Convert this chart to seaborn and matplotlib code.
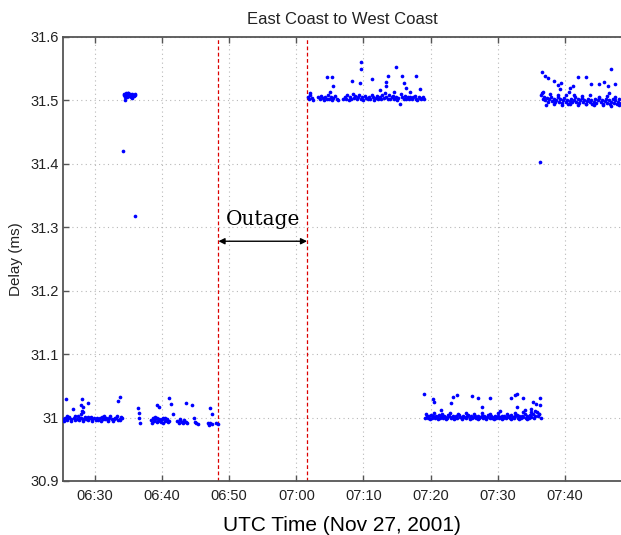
import matplotlib
matplotlib.use("Agg")
import matplotlib.pyplot as plt
import seaborn as sns
import pandas as pd

# ---- data (minutes after 06:00, delay in ms) ----
a_t = [25.3, 25.5, 25.8, 26.0, 26.2, 26.5, 26.9, 27.1, 27.3, 27.6, 27.8, 28.0, 28.3, 28.5,
       28.7, 29.0, 29.2, 29.4, 29.6, 29.9, 30.1, 30.3, 30.5, 30.8, 31.0, 31.2, 31.5, 31.7,
       31.9, 32.1, 32.3, 32.6, 32.8, 33.0, 33.2, 33.5, 33.7, 33.9, 34.0,
       25.4, 25.9, 26.4, 27.0, 27.5, 28.2, 28.9, 29.5, 30.2, 30.9, 31.4, 32.0, 32.7, 33.3, 33.8,
       25.7, 26.7, 28.1, 27.9, 28.2, 28.1, 29.0, 33.7, 33.4, 28.0, 28.3]
a_y = [30.998, 31.000, 30.996, 30.999, 31.001, 30.997, 30.999, 31.002, 30.998, 30.996, 31.000, 30.999,
       30.997, 31.001, 30.998, 30.996, 30.999, 31.001, 30.997, 30.999, 30.998, 31.000, 30.996, 30.999,
       31.001, 30.997, 30.998, 31.000, 30.996, 30.999, 31.002, 30.998, 30.997, 31.000, 30.999, 30.996,
       30.998, 31.001, 30.999,
       30.995, 31.002, 30.994, 30.996, 31.003, 30.995, 31.001, 30.994, 30.996, 30.995, 31.002, 30.994,
       30.995, 31.003, 30.996,
       31.029, 31.013, 31.029, 31.020, 31.016, 31.010, 31.023, 31.032, 31.026, 31.006, 31.008]

b_t = [34.3, 34.4, 34.5, 34.6, 34.7, 34.8, 34.9, 35.0, 35.1, 35.2, 35.3, 35.4, 35.5, 35.6,
       35.8, 35.9, 36.0, 34.5, 35.0, 35.6, 34.2, 36.0]
b_y = [31.508, 31.510, 31.506, 31.511, 31.508, 31.505, 31.509, 31.511, 31.507, 31.510, 31.508,
       31.506, 31.510, 31.509, 31.507, 31.510, 31.508, 31.501, 31.512, 31.504, 31.420, 31.318]

c_t = [36.4, 36.5, 36.6, 36.7,
       38.4, 38.6, 38.8, 39.0, 39.2, 39.4, 39.6, 39.8, 40.0, 40.2, 40.4, 40.6, 40.8, 41.0,
       38.5, 38.9, 39.3, 39.7, 40.1, 40.5, 40.9,
       39.2, 39.5, 41.1, 41.4, 41.6,
       42.3, 42.5, 42.7, 42.9, 43.1, 43.3, 43.5, 43.7, 42.6, 43.2,
       43.5, 44.5, 44.8, 44.9, 45.1, 45.3,
       46.8, 47.0, 47.2, 47.4, 47.1, 47.4, 48.1, 48.3]
c_y = [31.015, 31.007, 31.000, 30.992,
       30.996, 30.999, 30.994, 30.997, 31.000, 30.995, 30.998, 30.993, 30.997, 30.999, 30.994,
       30.996, 30.998, 30.995,
       30.992, 31.001, 30.993, 30.996, 30.992, 31.000, 30.993,
       31.020, 31.017, 31.031, 31.021, 31.006,
       30.995, 30.992, 30.996, 30.993, 30.991, 30.995, 30.993, 30.991, 30.998, 30.996,
       31.023, 31.020, 31.000, 30.993, 30.991, 30.990,
       30.991, 30.989, 30.991, 30.990, 31.015, 31.006, 30.992, 30.990]

d_t = [61.7, 61.9, 62.1, 62.3, 62.5, 63.3, 63.5, 63.7, 63.9, 64.1, 64.3, 64.5, 64.7, 64.9,
       65.1, 65.3, 65.5, 65.7, 66.0, 66.2, 67.0, 67.2, 67.4, 67.6, 67.8, 68.0, 68.2, 68.4,
       68.6, 68.8, 69.0, 69.2, 69.4, 69.6, 69.8, 70.0, 70.2, 70.4, 70.6, 70.8, 71.0, 71.2,
       71.4, 71.6, 71.8, 72.0, 72.2, 72.4, 72.6, 72.8, 73.0, 73.2, 73.4, 73.6, 73.8, 74.0,
       74.2, 74.4, 74.6, 74.8, 75.0, 75.2, 75.6, 75.8, 76.0, 76.2, 76.4, 76.6, 76.8, 77.0,
       77.2, 77.4, 77.6, 77.8, 78.0, 78.2, 78.4, 78.6, 78.8, 79.0,
       64.6, 65.3, 65.4, 68.3, 69.6, 69.7, 69.5, 71.2, 73.3, 73.6, 73.3, 74.8, 75.5, 75.8,
       76.0, 76.3, 77.8, 78.4, 62.0, 65.0, 72.5, 74.5, 76.9]
d_y = [31.506, 31.503, 31.508, 31.504, 31.501, 31.505, 31.502, 31.507, 31.504, 31.500, 31.506,
       31.503, 31.508, 31.502, 31.505, 31.501, 31.504, 31.507, 31.503, 31.500, 31.502, 31.506,
       31.503, 31.508, 31.501, 31.505, 31.503, 31.510, 31.504, 31.507, 31.502, 31.506, 31.509,
       31.503, 31.505, 31.501, 31.507, 31.504, 31.502, 31.506, 31.503, 31.508, 31.505, 31.501,
       31.504, 31.507, 31.502, 31.505, 31.503, 31.508, 31.504, 31.512, 31.506, 31.503, 31.509,
       31.502, 31.505, 31.507, 31.503, 31.506, 31.501, 31.504, 31.510, 31.506, 31.503, 31.507,
       31.502, 31.505, 31.503, 31.506, 31.502, 31.505, 31.507, 31.503, 31.501, 31.506, 31.504,
       31.502, 31.505, 31.503,
       31.537, 31.537, 31.523, 31.531, 31.561, 31.550, 31.527, 31.534, 31.529, 31.539, 31.523,
       31.553, 31.494, 31.539, 31.528, 31.519, 31.539, 31.518, 31.512, 31.514, 31.516, 31.514,
       31.513]

e_t = [79.2, 79.4, 79.6, 79.8, 80.0, 80.2, 80.4, 80.6, 80.8, 81.0, 81.2, 81.4, 81.6, 81.8,
       82.0, 82.2, 82.4, 82.6, 82.8, 83.0, 83.2, 83.4, 83.6, 83.8, 84.0, 84.2, 84.4, 84.6,
       84.8, 85.0, 85.2, 85.4, 85.6, 85.8, 86.0, 86.2, 86.4, 86.6, 86.8, 87.0, 87.2, 87.4,
       87.6, 87.8, 88.0, 88.2, 88.4, 88.6, 88.8, 89.0, 89.2, 89.4, 89.6, 89.8, 90.0, 90.2,
       90.4, 90.6, 90.8, 91.0, 91.2, 91.4, 91.6, 91.8, 92.0, 92.2, 92.4, 92.6, 92.8, 93.0,
       93.2, 93.4, 93.6, 93.8, 94.0, 94.2, 94.4, 94.6, 94.8, 95.0, 95.2, 95.4, 95.6, 95.8,
       96.0, 96.2, 96.4,
       79.3, 79.9, 80.5, 81.1, 81.7, 82.3, 82.9, 83.5, 84.1, 84.7, 85.3, 85.9, 86.5, 87.1,
       87.7, 88.3, 88.9, 89.5, 90.1, 90.7, 91.3, 91.9, 92.5, 93.1, 93.7, 94.3, 94.9, 95.5, 96.1,
       79.0, 80.3, 80.5, 83.0, 83.4, 83.9, 86.1, 87.1, 87.7, 88.8, 92.0, 92.5, 92.9, 93.8,
       95.3, 95.7, 96.3, 96.3, 92.9, 81.6, 90.4, 94.1, 95.0]
e_y = [31.000, 31.003, 30.999, 31.002, 31.004, 31.000, 31.002, 30.999, 31.003, 31.001, 31.004,
       31.000, 31.002, 30.999, 31.003, 31.001, 31.000, 31.004, 31.002, 30.999, 31.001, 31.003,
       31.000, 31.002, 30.999, 31.004, 31.001, 31.000, 31.003, 31.001, 30.999, 31.002, 31.004,
       31.000, 31.002, 30.999, 31.001, 31.003, 31.000, 31.002, 30.999, 31.001, 31.003, 31.000,
       31.002, 30.999, 31.001, 31.004, 31.000, 31.002, 30.999, 31.001, 31.003, 31.000, 31.002,
       30.999, 31.001, 31.003, 31.000, 31.002, 30.999, 31.001, 31.003, 31.000, 31.004, 31.001,
       30.999, 31.002, 31.004, 31.000, 31.002, 30.999, 31.003, 31.001, 31.005, 31.000, 31.002,
       30.999, 31.004, 31.001, 31.006, 31.000, 31.003, 31.008, 31.002, 31.005, 31.000,
       31.006, 30.997, 31.007, 30.997, 31.006, 30.998, 31.007, 30.997, 31.006, 30.998, 31.007,
       30.997, 31.006, 30.998, 31.007, 30.997, 31.006, 30.998, 31.007, 30.997, 31.006, 30.998,
       31.007, 30.997, 31.008, 30.998, 31.009, 31.010, 31.006,
       31.037, 31.030, 31.024, 31.023, 31.032, 31.035, 31.034, 31.031, 31.016, 31.031, 31.031,
       31.035, 31.037, 31.031, 31.025, 31.022, 31.031, 31.020, 31.016, 31.012, 31.010, 31.012,
       31.014]

f_t = [96.5, 96.7, 96.9, 97.1, 97.3, 97.5, 97.7, 97.9, 98.1, 98.3, 98.5, 98.7, 98.9, 99.1,
       99.3, 99.5, 99.7, 99.9, 100.1, 100.3, 100.5, 100.7, 100.9, 101.1, 101.3, 101.5, 101.7,
       101.9, 102.1, 102.3, 102.5, 102.7, 102.9, 103.1, 103.3, 103.5, 103.7, 103.9, 104.1,
       104.3, 104.5, 104.7, 104.9, 105.1, 105.3, 105.5, 105.7, 105.9, 106.1, 106.3, 106.5,
       106.7, 106.9, 107.1, 107.3, 107.5, 107.7, 107.9, 108.1, 108.3,
       96.6, 97.2, 97.8, 98.4, 99.0, 99.6, 100.2, 100.8, 101.4, 102.0, 102.6, 103.2, 103.8,
       104.4, 105.0, 105.6, 106.2, 106.8, 107.4, 108.0,
       96.6, 97.1, 97.5, 98.4, 99.0, 99.4, 99.3, 100.8, 101.2, 102.0, 103.1, 103.9, 105.1,
       105.8, 106.4, 106.9, 107.4, 96.3, 96.8, 100.6, 106.6]
f_y = [31.508, 31.503, 31.506, 31.500, 31.504, 31.498, 31.502, 31.506, 31.499, 31.503, 31.497,
       31.501, 31.505, 31.498, 31.502, 31.496, 31.500, 31.504, 31.498, 31.501, 31.495, 31.499,
       31.503, 31.497, 31.501, 31.505, 31.498, 31.502, 31.496, 31.500, 31.504, 31.497, 31.501,
       31.495, 31.499, 31.503, 31.497, 31.500, 31.494, 31.498, 31.502, 31.496, 31.500, 31.504,
       31.497, 31.501, 31.495, 31.499, 31.503, 31.496, 31.500, 31.494, 31.498, 31.502, 31.496,
       31.500, 31.494, 31.498, 31.502, 31.496,
       31.512, 31.493, 31.510, 31.494, 31.509, 31.493, 31.508, 31.494, 31.509, 31.493, 31.507,
       31.494, 31.508, 31.493, 31.506, 31.493, 31.507, 31.492, 31.506, 31.493,
       31.545, 31.538, 31.535, 31.531, 31.524, 31.527, 31.518, 31.519, 31.522, 31.537, 31.537,
       31.526, 31.526, 31.529, 31.522, 31.549, 31.526, 31.403, 31.514, 31.513, 31.512]

outage_start = 48.4
outage_end = 61.6
x_ticks = [30, 40, 50, 60, 70, 80, 90, 100]
x_labels = ["06:30", "06:40", "06:50", "07:00", "07:10", "07:20", "07:30", "07:40"]
y_ticks = [30.9, 31.0, 31.1, 31.2, 31.3, 31.4, 31.5, 31.6]
y_labels = ["30.9", "31", "31.1", "31.2", "31.3", "31.4", "31.5", "31.6"]

df = pd.DataFrame({
    "t": a_t + b_t + c_t + d_t + e_t + f_t,
    "delay": a_y + b_y + c_y + d_y + e_y + f_y,
})

sns.set_style("white")
plt.rcParams["font.family"] = ["Liberation Sans", "DejaVu Sans"]

fig = plt.figure(figsize=(6.21, 5.35), dpi=100)
ax = fig.add_axes([63 / 621, 54 / 535, 1.0 - 63 / 621, 444 / 535])

sns.scatterplot(data=df, x="t", y="delay", ax=ax, color="#0000ff", s=7,
                linewidth=0, marker="o", zorder=3)

ax.set_xlim(25.25, 108.35)
ax.set_ylim(30.9, 31.6)
ax.set_xticks(x_ticks)
ax.set_xticklabels(x_labels)
ax.set_yticks(y_ticks)
ax.set_yticklabels(y_labels)

ax.grid(True, linestyle=(0, (1, 3)), color="#b8b8b8", linewidth=0.8)
ax.set_axisbelow(True)

for side in ["left", "bottom", "top"]:
    ax.spines[side].set_color("#555555")
    ax.spines[side].set_linewidth(1.3)
ax.spines["right"].set_visible(False)
ax.tick_params(direction="in", length=4, width=1, color="#555555",
               labelsize=10.5, top=True, bottom=True, left=True, right=False,
               labelcolor="#222222")
ax.tick_params(axis="x", pad=6)
ax.tick_params(axis="y", pad=3)

ax.axvline(outage_start, color="#dd0000", linestyle=(0, (3, 2)), linewidth=0.9, zorder=2)
ax.axvline(outage_end, color="#dd0000", linestyle=(0, (3, 2)), linewidth=0.9, zorder=2)

ax.annotate("", xy=(outage_start, 31.278), xytext=(outage_end, 31.278),
            arrowprops=dict(arrowstyle="<|-|>", color="black", lw=1.0,
                            mutation_scale=9, shrinkA=0, shrinkB=0))
ax.text((outage_start + outage_end) / 2, 31.298, "Outage", ha="center", va="bottom",
        fontsize=14.5, family=["DejaVu Serif"], color="black")

ax.set_title("East Coast to West Coast", fontsize=12, pad=9, color="#222222")
ax.set_xlabel("UTC Time (Nov 27, 2001)", fontsize=15, labelpad=9, color="black")
ax.set_ylabel("Delay (ms)", fontsize=11, labelpad=5, color="#222222")

fig.savefig("out.png", dpi=100)
